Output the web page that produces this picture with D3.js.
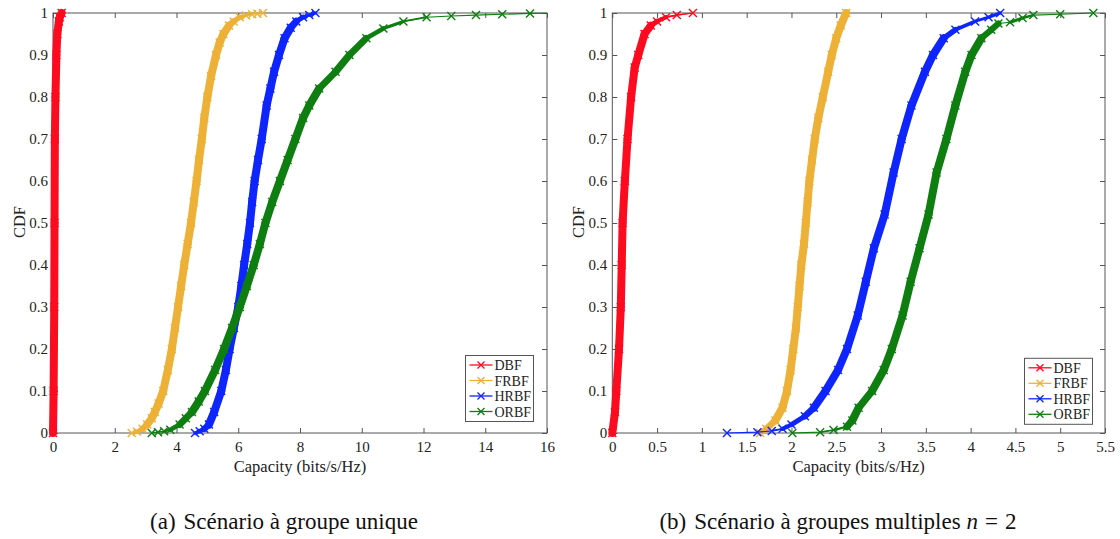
<!DOCTYPE html>
<html>
<head>
<meta charset="utf-8">
<script src="https://cdn.jsdelivr.net/npm/d3@7"></script>
<style>
  body { margin: 0; background: #fff; }
  svg { display: block; font-family: "Liberation Serif", "Times New Roman", serif; }
</style>
</head>
<body>
<svg id="fig" width="1120" height="539"></svg>
<script>
// Beamforming schemes and their colours
const seriesNames = ["DBF", "FRBF", "HRBF", "ORBF"];
const seriesColors = ["#fd0b1f", "#edb137", "#0e25fe", "#0f7e11"];

// (a) single group scenario: [capacity (bits/s/Hz), CDF]
const a_DBF = [[0.0, 0], [0.02, 0.1], [0.04, 0.3], [0.05, 0.5], [0.06, 0.7], [0.08, 0.8], [0.11, 0.9], [0.14, 0.95], [0.19, 0.98], [0.22, 0.99], [0.28, 1]];
const a_FRBF = [[2.55, 0], [2.72, 0.003], [2.9, 0.01], [3.05, 0.02], [3.2, 0.035], [3.3, 0.05], [3.42, 0.07], [3.57, 0.1], [3.72, 0.15], [3.85, 0.2], [3.95, 0.25], [4.05, 0.3], [4.15, 0.35], [4.25, 0.4], [4.36, 0.45], [4.47, 0.5], [4.56, 0.55], [4.65, 0.6], [4.73, 0.65], [4.82, 0.7], [4.9, 0.75], [5.0, 0.8], [5.12, 0.85], [5.28, 0.9], [5.4, 0.93], [5.52, 0.95], [5.7, 0.97], [5.85, 0.98], [6.05, 0.99], [6.25, 0.994], [6.45, 0.997], [6.62, 0.998], [6.8, 1]];
const a_HRBF = [[4.6, 0], [4.75, 0.004], [4.9, 0.01], [5.05, 0.02], [5.22, 0.05], [5.45, 0.1], [5.6, 0.15], [5.72, 0.2], [5.86, 0.25], [6.0, 0.3], [6.1, 0.35], [6.19, 0.4], [6.29, 0.45], [6.38, 0.5], [6.45, 0.55], [6.53, 0.6], [6.64, 0.65], [6.76, 0.7], [6.92, 0.78], [7.04, 0.82], [7.16, 0.86], [7.32, 0.9], [7.5, 0.94], [7.7, 0.965], [7.88, 0.98], [8.1, 0.99], [8.3, 0.995], [8.5, 1]];
const a_ORBF = [[3.2, 0], [3.4, 0.002], [3.6, 0.004], [3.8, 0.008], [4.1, 0.02], [4.3, 0.035], [4.5, 0.05], [4.72, 0.075], [4.92, 0.1], [5.25, 0.15], [5.54, 0.2], [5.8, 0.25], [6.05, 0.3], [6.28, 0.35], [6.5, 0.4], [6.7, 0.45], [6.88, 0.5], [7.1, 0.55], [7.35, 0.6], [7.6, 0.65], [7.85, 0.7], [8.1, 0.75], [8.3, 0.78], [8.62, 0.82], [9.15, 0.86], [9.6, 0.9], [10.15, 0.94], [10.7, 0.963], [11.35, 0.98], [12.1, 0.99], [12.9, 0.993], [13.7, 0.995], [14.55, 0.997], [15.45, 0.999], [16.8, 1]];

// (b) multiple groups, n = 2: [capacity (bits/s/Hz), CDF]
const b_DBF = [[0.0, 0], [0.03, 0.05], [0.045, 0.1], [0.075, 0.2], [0.095, 0.3], [0.105, 0.4], [0.115, 0.5], [0.14, 0.6], [0.17, 0.7], [0.21, 0.8], [0.25, 0.87], [0.29, 0.9], [0.36, 0.95], [0.43, 0.97], [0.5, 0.98], [0.6, 0.99], [0.72, 0.995], [0.9, 1]];
const b_FRBF = [[1.65, 0], [1.72, 0.01], [1.82, 0.03], [1.9, 0.06], [1.95, 0.1], [1.99, 0.15], [2.02, 0.2], [2.05, 0.25], [2.07, 0.3], [2.09, 0.35], [2.11, 0.4], [2.14, 0.45], [2.16, 0.5], [2.18, 0.55], [2.2, 0.6], [2.23, 0.65], [2.26, 0.7], [2.3, 0.75], [2.35, 0.8], [2.41, 0.86], [2.45, 0.9], [2.5, 0.94], [2.55, 0.97], [2.61, 1]];
const b_HRBF = [[1.28, 0], [1.62, 0.002], [1.78, 0.005], [1.9, 0.01], [2.0, 0.02], [2.15, 0.04], [2.25, 0.06], [2.38, 0.1], [2.52, 0.15], [2.62, 0.2], [2.74, 0.28], [2.83, 0.36], [2.92, 0.44], [3.04, 0.52], [3.14, 0.62], [3.23, 0.7], [3.34, 0.78], [3.49, 0.86], [3.58, 0.9], [3.7, 0.94], [3.83, 0.96], [4.05, 0.98], [4.2, 0.99], [4.33, 1]];
const b_ORBF = [[2.01, 0], [2.32, 0.002], [2.47, 0.007], [2.62, 0.015], [2.68, 0.03], [2.75, 0.06], [2.9, 0.1], [3.03, 0.15], [3.12, 0.2], [3.24, 0.28], [3.33, 0.36], [3.43, 0.44], [3.53, 0.52], [3.62, 0.62], [3.73, 0.7], [3.83, 0.78], [3.94, 0.86], [4.01, 0.9], [4.12, 0.94], [4.23, 0.96], [4.31, 0.975], [4.44, 0.978], [4.58, 0.988], [4.7, 0.995], [5.0, 0.997], [5.37, 1]];

// axis ticks
const xTicksA = [0, 2, 4, 6, 8, 10, 12, 14, 16];
const xTicksB = [0, 0.5, 1, 1.5, 2, 2.5, 3, 3.5, 4, 4.5, 5, 5.5];
const yTicks = [0, 0.1, 0.2, 0.3, 0.4, 0.5, 0.6, 0.7, 0.8, 0.9, 1];
const yTickLabels = ["0", "0.1", "0.2", "0.3", "0.4", "0.5", "0.6", "0.7", "0.8", "0.9", "1"];

// axis titles
const xTitle = "Capacity (bits/s/Hz)";
const yTitle = "CDF";

const svg = d3.select("#fig");
const AXIS = "#555";
const TEXT = "#222";
const crossPath = "M-4,-4L4,4M-4,4L4,-4";

function drawPanel(opts) {
  const { left, top, width, height, xMax, xTicks, series, legend, id } = opts;
  const x = d3.scaleLinear().domain([0, xMax]).range([0, width]);
  const y = d3.scaleLinear().domain([0, 1]).range([height, 0]);
  const g = svg.append("g").attr("transform", `translate(${left},${top})`);

  // clip for lines: plot box plus a little room on the left/top/bottom for the thick bands
  svg.append("defs").append("clipPath").attr("id", id)
    .append("rect").attr("x", -6).attr("y", -6).attr("width", width + 6).attr("height", height + 12);

  // axes with inward ticks on all four sides
  const styleAxis = sel => {
    sel.selectAll(".domain").remove();
    sel.selectAll("line").attr("stroke", AXIS);
    sel.selectAll("text").attr("fill", TEXT).attr("font-size", 15)
      .attr("font-family", "Liberation Serif, serif");
  };
  g.append("g").attr("transform", `translate(0,${height})`)
    .call(d3.axisBottom(x).tickValues(xTicks).tickSize(-5).tickPadding(8).tickFormat(d3.format("~g")))
    .call(styleAxis);
  g.append("g")
    .call(d3.axisTop(x).tickValues(xTicks).tickSize(-5).tickFormat(""))
    .call(styleAxis);
  g.append("g")
    .call(d3.axisLeft(y).tickValues(yTicks).tickSize(-5).tickPadding(5).tickFormat((d, i) => yTickLabels[i]))
    .call(styleAxis);
  g.append("g").attr("transform", `translate(${width},0)`)
    .call(d3.axisRight(y).tickValues(yTicks).tickSize(-5).tickFormat(""))
    .call(styleAxis);
  g.append("rect").attr("width", width).attr("height", height)
    .attr("fill", "none").attr("stroke", AXIS).attr("stroke-width", 1);

  // CDF curves: thin connecting line, band where the samples are dense, cross markers
  series.forEach((data, si) => {
    const color = seriesColors[si];
    const cg = g.append("g").attr("clip-path", `url(#${id})`);
    cg.append("path").datum(data)
      .attr("d", d3.line().x(d => x(d[0])).y(d => y(d[1])))
      .attr("fill", "none").attr("stroke", color).attr("stroke-width", 1.1);
    for (let i = 1; i < data.length; i++) {
      const x0 = x(data[i - 1][0]), y0 = y(data[i - 1][1]);
      const x1 = x(data[i][0]), y1 = y(data[i][1]);
      const len = Math.hypot(x1 - x0, y1 - y0) || 1;
      const density = (data[i][1] - data[i - 1][1]) / len;
      const sw = Math.max(1.1, Math.min(8, 8 * density / 0.002));
      if (sw > 1.2) {
        cg.append("line").attr("x1", x0).attr("y1", y0).attr("x2", x1).attr("y2", y1)
          .attr("stroke", color).attr("stroke-width", sw).attr("stroke-linecap", "round");
      }
    }
    g.append("g").selectAll("path").data(data.filter(d => d[0] <= xMax)).join("path")
      .attr("transform", d => `translate(${x(d[0])},${y(d[1])})`)
      .attr("d", crossPath).attr("fill", "none")
      .attr("stroke", color).attr("stroke-width", 1.4);
  });

  // axis titles
  g.append("text").attr("x", width / 2).attr("y", height + 39)
    .attr("text-anchor", "middle").attr("font-size", 16.5).attr("fill", TEXT).text(xTitle);
  g.append("text").attr("transform", `translate(${-28},${height / 2 - 1}) rotate(-90)`)
    .attr("text-anchor", "middle").attr("font-size", 16.5).attr("fill", TEXT).text(yTitle);

  // legend
  const lg = g.append("g").attr("transform", `translate(${legend.x},${legend.y})`);
  lg.append("rect").attr("width", 68).attr("height", 66)
    .attr("fill", "#fff").attr("stroke", AXIS).attr("stroke-width", 1);
  seriesNames.forEach((name, i) => {
    const ry = 9.5 + i * 15.5;
    const row = lg.append("g").attr("transform", `translate(0,${ry})`);
    row.append("line").attr("x1", 4).attr("x2", 27).attr("y1", 0).attr("y2", 0)
      .attr("stroke", seriesColors[i]).attr("stroke-width", 1.3);
    row.append("path").attr("transform", "translate(15.5,0)").attr("d", "M-3.5,-3.5L3.5,3.5M-3.5,3.5L3.5,-3.5")
      .attr("fill", "none").attr("stroke", seriesColors[i]).attr("stroke-width", 1.3);
    row.append("text").attr("x", 29).attr("y", 5).attr("font-size", 14)
      .attr("fill", TEXT).text(name);
  });
}

drawPanel({
  id: "clipA", left: 53, top: 13, width: 494, height: 420, xMax: 16, xTicks: xTicksA,
  series: [a_DBF, a_FRBF, a_HRBF, a_ORBF],
  legend: { x: 412.5, y: 342.5 }
});
drawPanel({
  id: "clipB", left: 612.3, top: 13, width: 492.7, height: 420, xMax: 5.5, xTicks: xTicksB,
  series: [b_DBF, b_FRBF, b_HRBF, b_ORBF],
  legend: { x: 412.2, y: 345.3 }
});

// panel captions
const capA = svg.append("text").attr("x", 284).attr("y", 529).attr("text-anchor", "middle")
  .attr("font-size", 23).attr("fill", "#111");
capA.append("tspan").text("(a)");
capA.append("tspan").attr("dx", 8).text("Scénario à groupe unique");

const capB = svg.append("text").attr("x", 838).attr("y", 529).attr("text-anchor", "middle")
  .attr("font-size", 23).attr("fill", "#111");
capB.append("tspan").text("(b)");
capB.append("tspan").attr("dx", 8).text("Scénario à groupes multiples");
capB.append("tspan").attr("dx", 6).attr("font-style", "italic").text("n");
capB.append("tspan").attr("dx", 7).text("=");
capB.append("tspan").attr("dx", 7).text("2");
</script>
</body>
</html>
